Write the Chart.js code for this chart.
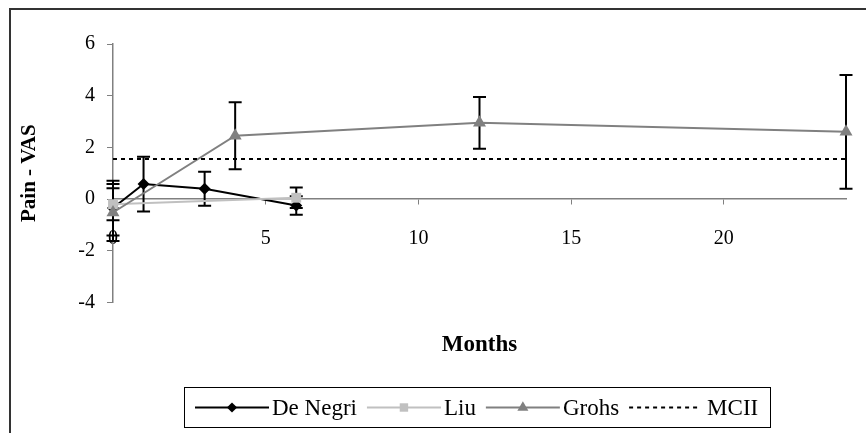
<!DOCTYPE html>
<html>
<head>
<meta charset="utf-8">
<title>Pain - VAS</title>
<script src="https://cdn.jsdelivr.net/npm/chart.js@4.4.1/dist/chart.umd.min.js"></script>
<style>
  html, body { margin: 0; padding: 0; background: #fff; overflow: hidden; }
  #wrap { position: relative; width: 866px; height: 433px; }
  #frame { position: absolute; left: 9px; top: 8px; width: 880px; height: 450px; border: 2px solid #333; box-sizing: border-box; }
  canvas { position: absolute; left: 0; top: 0; }
</style>
</head>
<body>
<div id="wrap">
  <div id="frame"></div>
  <canvas id="painChart" width="866" height="433"></canvas>
</div>
<script>
// values (months, VAS change, error half-width)
const deNegriMonths = [0, 1, 3, 6];
const deNegriVas = [-0.35, 0.58, 0.4, -0.25];
const deNegriErr = [1.06, 1.06, 0.66, 0.36];

const liuMonths = [0, 6];
const liuVas = [-0.2, 0.05];
const liuErr = [0.62, 0.4];

const grohsMonths = [0, 4, 12, 24];
const grohsVas = [-0.52, 2.45, 2.95, 2.6];
const grohsErr = [1.1, 1.3, 1.0, 2.2];

const mciiMonths = [0, 24];
const mciiVas = [1.55, 1.55];

const xTicks = [0, 5, 10, 15, 20];
const yTicks = [-4, -2, 0, 2, 4, 6];

const serif = "'Liberation Serif', 'Times New Roman', serif";

function toPoints(xs, ys) {
  return xs.map((x, i) => ({ x: x, y: ys[i] }));
}

// error bars, drawn under the markers
const errorBars = {
  id: 'errorBars',
  beforeDatasetsDraw(chart) {
    const { ctx, scales: { x, y } } = chart;
    ctx.save();
    ctx.strokeStyle = '#000';
    ctx.lineWidth = 2;
    chart.data.datasets.forEach(ds => {
      if (!ds.errors) return;
      ds.data.forEach((p, i) => {
        const px = x.getPixelForValue(p.x);
        const top = y.getPixelForValue(p.y + ds.errors[i]);
        const bot = y.getPixelForValue(p.y - ds.errors[i]);
        ctx.beginPath();
        ctx.moveTo(px, top); ctx.lineTo(px, bot);
        ctx.moveTo(px - 6.5, top); ctx.lineTo(px + 6.5, top);
        ctx.moveTo(px - 6.5, bot); ctx.lineTo(px + 6.5, bot);
        ctx.stroke();
      });
    });
    ctx.restore();
  }
};

// boxed legend with line + marker samples
const boxLegend = {
  id: 'boxLegend',
  afterDraw(chart) {
    const ctx = chart.ctx;
    const boxX = 184.5, boxY = 387.5, boxW = 586, boxH = 40;
    const midY = boxY + boxH / 2;
    ctx.save();
    ctx.strokeStyle = '#000';
    ctx.lineWidth = 1;
    ctx.strokeRect(boxX, boxY, boxW, boxH);
    ctx.font = '23px ' + serif;
    ctx.textBaseline = 'middle';
    ctx.fillStyle = '#000';
    let cx = 195;
    chart.data.datasets.forEach(ds => {
      const len = ds.label === 'MCII' ? 71 : 74;
      ctx.save();
      ctx.strokeStyle = ds.borderColor;
      ctx.lineWidth = ds.borderWidth;
      ctx.setLineDash(ds.borderDash || []);
      ctx.beginPath();
      ctx.moveTo(cx, midY); ctx.lineTo(cx + len, midY);
      ctx.stroke();
      ctx.restore();
      if (ds.pointRadius > 0) {
        ctx.fillStyle = ds.pointBackgroundColor;
        ctx.strokeStyle = ds.pointBackgroundColor;
        Chart.helpers.drawPoint(ctx, {
          pointStyle: ds.pointStyle, radius: ds.pointRadius * 0.85, borderWidth: 0, rotation: 0
        }, cx + len / 2, midY);
      }
      ctx.fillStyle = '#000';
      const tx = cx + len + (ds.label === 'MCII' ? 7 : 3);
      ctx.fillText(ds.label, tx, midY + 1);
      cx = tx + ctx.measureText(ds.label).width + 10;
    });
    ctx.restore();
  }
};

const ctx = document.getElementById('painChart').getContext('2d');
const painChart = new Chart(ctx, {
  type: 'line',
  data: {
    datasets: [{
      label: 'De Negri',
      data: toPoints(deNegriMonths, deNegriVas),
      errors: deNegriErr,
      borderColor: '#000',
      borderWidth: 2,
      pointStyle: 'rectRot',
      pointRadius: 6,
      pointBackgroundColor: '#000',
      pointBorderWidth: 0,
      order: 4
    }, {
      label: 'Liu',
      data: toPoints(liuMonths, liuVas),
      errors: liuErr,
      borderColor: '#c0c0c0',
      borderWidth: 2,
      pointStyle: 'rect',
      pointRadius: 7,
      pointBackgroundColor: '#c0c0c0',
      pointBorderWidth: 0,
      order: 3
    }, {
      label: 'Grohs',
      data: toPoints(grohsMonths, grohsVas),
      errors: grohsErr,
      borderColor: '#808080',
      borderWidth: 2,
      pointStyle: 'triangle',
      pointRadius: 7.5,
      pointBackgroundColor: '#808080',
      pointBorderWidth: 0,
      order: 2
    }, {
      label: 'MCII',
      data: toPoints(mciiMonths, mciiVas),
      borderColor: '#000',
      borderWidth: 2,
      borderDash: [4, 4],
      pointRadius: 0,
      order: 1
    }]
  },
  options: {
    responsive: false,
    animation: false,
    clip: false,
    layout: { padding: { left: 10, top: 44, right: 20, bottom: 69 } },
    plugins: {
      legend: { display: false },
      tooltip: { enabled: false },
      title: {
        display: true,
        text: 'Months',
        position: 'bottom',
        fullSize: false,
        color: '#000',
        font: { family: serif, size: 23, weight: 'bold' },
        padding: { top: 29, bottom: 5 }
      }
    },
    scales: {
      x: {
        type: 'linear',
        position: { y: 0 },
        min: 0,
        max: 24,
        afterBuildTicks: s => { s.ticks = xTicks.map(v => ({ value: v })); },
        grid: { drawOnChartArea: false, tickLength: 5, color: '#808080', lineWidth: 1 },
        border: { color: '#808080', width: 1.5 },
        ticks: { color: '#000', padding: 23, font: { family: serif, size: 20 } }
      },
      y: {
        type: 'linear',
        position: 'left',
        min: -4,
        max: 6,
        afterBuildTicks: s => { s.ticks = yTicks.map(v => ({ value: v })); },
        afterFit: s => { s.width = 103; },
        grid: { drawOnChartArea: false, tickLength: 6, color: '#808080', lineWidth: 1 },
        border: { color: '#808080', width: 1.5 },
        ticks: { color: '#000', padding: 12, font: { family: serif, size: 20 } },
        title: {
          display: true,
          text: 'Pain - VAS',
          color: '#000',
          font: { family: serif, size: 21, weight: 'bold' },
          padding: { top: 7, bottom: 0 }
        }
      }
    }
  },
  plugins: [errorBars, boxLegend]
});
</script>
</body>
</html>
